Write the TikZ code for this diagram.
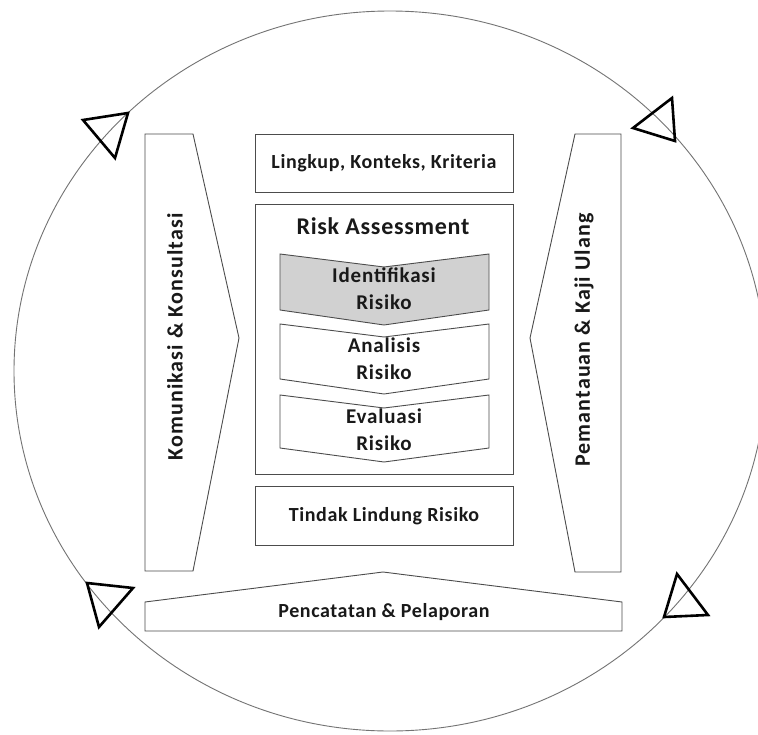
\documentclass[tikz,border=0pt]{standalone}
\usepackage{fontspec}
\setmainfont{Carlito}
\newfontfamily\tightlbl[LetterSpace=3]{Carlito}
\newfontfamily\widelbl[LetterSpace=4]{Carlito}
\newfontfamily\sidefont[LetterSpace=5]{Carlito}
\begin{document}
\begin{tikzpicture}[x=1pt,y=-1pt,
  box/.style={draw=black!70, line width=0.9pt},
  lbl/.style={font=\tightlbl\bfseries\fontsize{20}{24}\selectfont, text=black!90, align=center, inner sep=0pt},
  steplbl/.style={font=\widelbl\bfseries\fontsize{21}{27}\selectfont, text=black!90, align=center, inner sep=0pt},
  sidelbl/.style={font=\sidefont\bfseries\fontsize{22}{26}\selectfont, text=black!90, inner sep=0pt},
  tri/.style={draw=black, line width=2.6pt, line join=miter},
  ring/.style={draw=black!55, line width=0.9pt}]
\useasboundingbox (0,0) rectangle (758,734);
\fill[white] (0,0) rectangle (758,734);

% outer cycle
\draw[ring] (390,371) ellipse [x radius=376pt, y radius=360pt];

% open triangles riding on the cycle
\draw[tri] (83,120) -- (128,113) -- (115,158) -- cycle;
\draw[tri] (672,98) -- (633,128) -- (675,141) -- cycle;
\draw[tri] (87,583) -- (133,588) -- (99,627) -- cycle;
\draw[tri] (677,574) -- (664,617) -- (708,615) -- cycle;

% left chevron
\draw[box] (145,134) -- (193,134) -- (239,338) -- (193,571) -- (145,571) -- cycle;
\node[sidelbl, rotate=90] (kom) at (175,337) {Komunikasi \& Konsultasi};

% right chevron
\draw[box] (621,134) -- (575,134) -- (530,338) -- (575,572) -- (621,572) -- cycle;
\node[sidelbl, rotate=90] (pem) at (584,340) {Pemantauan \& Kaji Ulang};

% context box
\draw[box] (255,134) rectangle (513,192);
\node[lbl] (ctx) at (384,163) {Lingkup, Konteks, Kriteria};

% assessment frame
\draw[box] (255,204) rectangle (513,474);
\node[lbl, font=\tightlbl\bfseries\fontsize{24}{29}\selectfont] (ra) at (383,226) {Risk Assessment};

% assessment steps
\draw[box, fill=black!18] (280,254) -- (384,267) -- (489,254) -- (489,310) -- (384,325) -- (280,310) -- cycle;
\node[steplbl] (idf) at (384,289) {Identifikasi\\Risiko};
\draw[box] (280,324) -- (384,337) -- (489,324) -- (489,379) -- (384,394) -- (280,379) -- cycle;
\node[steplbl] (ana) at (384,359) {Analisis\\Risiko};
\draw[box] (280,395) -- (384,408) -- (489,395) -- (489,448) -- (384,462) -- (280,448) -- cycle;
\node[steplbl] (eva) at (384,430) {Evaluasi\\Risiko};

% treatment box
\draw[box] (255,486) rectangle (513,545);
\node[lbl] (tin) at (384,516) {Tindak Lindung Risiko};

% recording banner
\draw[box] (145,602) -- (383,572) -- (622,602) -- (622,631) -- (145,631) -- cycle;
\node[lbl] (pen) at (384,612) {Pencatatan \& Pelaporan};
\end{tikzpicture}
\end{document}
